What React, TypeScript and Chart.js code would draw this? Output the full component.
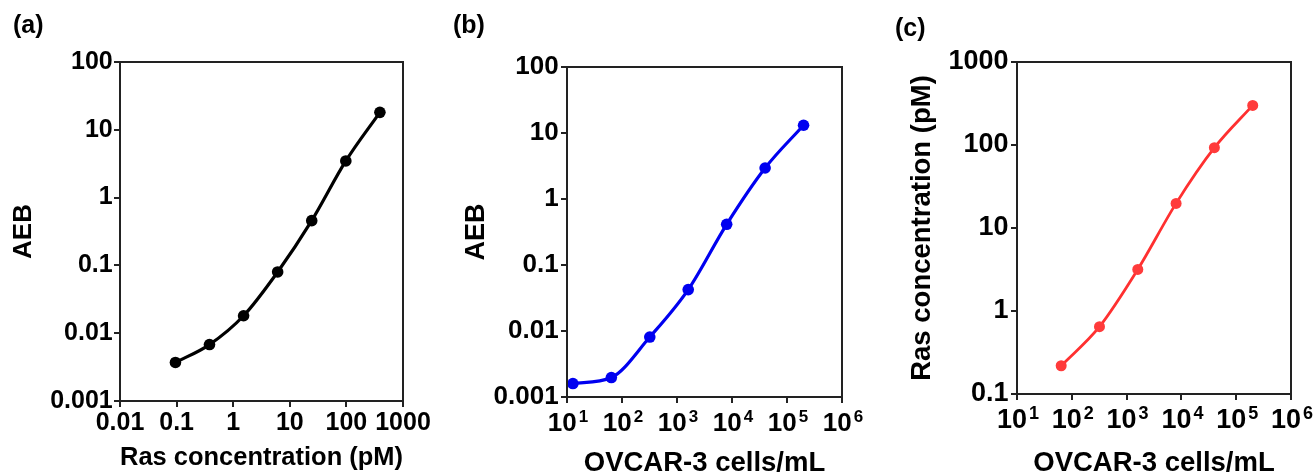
import React, { useEffect, useRef } from 'react';
import { Chart, registerables } from 'chart.js';

Chart.register(...registerables);

const FONT = "'Liberation Sans', Arial, Helvetica, sans-serif";
const AXIS_COLOR = '#222222';
const TEXT_COLOR = '#000000';

// ---------- Panel (a): AEB vs Ras concentration ----------
const A_RAS_PM = [0.0954, 0.381, 1.526, 6.1, 24.4, 97.66, 390.6];
const A_AEB = [0.0037, 0.0068, 0.0181, 0.08, 0.457, 3.47, 18.1];
const A_X_TICKS = [0.01, 0.1, 1, 10, 100, 1000];
const A_X_LABELS = ['0.01', '0.1', '1', '10', '100', '1000'];
const A_Y_TICKS = [0.001, 0.01, 0.1, 1, 10, 100];
const A_Y_LABELS = ['0.001', '0.01', '0.1', '1', '10', '100'];

// ---------- Panel (b): AEB vs OVCAR-3 cells ----------
const B_CELLS = [12.8, 64, 320, 1600, 8000, 40000, 200000];
const B_AEB = [0.0016, 0.00197, 0.0081, 0.0424, 0.414, 2.95, 13.1];
const B_Y_TICKS = [0.001, 0.01, 0.1, 1, 10, 100];
const B_Y_LABELS = ['0.001', '0.01', '0.1', '1', '10', '100'];

// ---------- Panel (c): Ras concentration vs OVCAR-3 cells ----------
const C_CELLS = [64, 320, 1600, 8000, 40000, 200000];
const C_RAS_PM = [0.219, 0.647, 3.17, 19.8, 92.7, 300];
const C_Y_TICKS = [0.1, 1, 10, 100, 1000];
const C_Y_LABELS = ['0.1', '1', '10', '100', '1000'];

// shared cell-count axis (10^n labels)
const CELL_TICKS = [1e1, 1e2, 1e3, 1e4, 1e5, 1e6];
const CELL_TICK_BASE = '10';
const CELL_TICK_EXP = ['1', '2', '3', '4', '5', '6'];

type Spec = {
  left: number;
  width: number;
  plot: { l: number; r: number; t: number; b: number };
  label: string;
  labelX: number;
  labelY: number;
  xs: number[];
  ys: number[];
  lineColor: string;
  pointColor: string;
  lineWidth: number;
  radius: number;
  xMin: number;
  xMax: number;
  yMin: number;
  yMax: number;
  xTicks: number[];
  xLabels: string[] | null;
  xExp: string[] | null;
  yTicks: number[];
  yLabels: string[];
  tickFont: number;
  xTitleFont: number;
  yTitleFont: number;
  xTitle: string;
  yTitle: string;
  xTitlePad: number;
  yTitlePad: number;
  xTickPad: number;
  yTickPad: number;
  supOffset: number;
};

const H = 475;

const SPECS: Spec[] = [
  {
    left: 0, width: 440,
    plot: { l: 120, r: 403, t: 62, b: 401 },
    label: '(a)', labelX: 13, labelY: 33,
    xs: A_RAS_PM, ys: A_AEB,
    lineColor: '#000000', pointColor: '#000000', lineWidth: 3.2, radius: 5.8,
    xMin: 0.01, xMax: 1000, yMin: 0.001, yMax: 100,
    xTicks: A_X_TICKS, xLabels: A_X_LABELS, xExp: null,
    yTicks: A_Y_TICKS, yLabels: A_Y_LABELS,
    tickFont: 25, xTitleFont: 26.5, yTitleFont: 26,
    xTitle: 'Ras concentration (pM)', yTitle: 'AEB',
    xTitlePad: 1.2, yTitlePad: 8.5, xTickPad: 1.5, yTickPad: 1.3, supOffset: 0,
  },
  {
    left: 440, width: 440,
    plot: { l: 127, r: 402, t: 67, b: 397 },
    label: '(b)', labelX: 13, labelY: 33,
    xs: B_CELLS, ys: B_AEB,
    lineColor: '#0000f0', pointColor: '#0000f0', lineWidth: 3.2, radius: 5.8,
    xMin: 10, xMax: 1e6, yMin: 0.001, yMax: 100,
    xTicks: CELL_TICKS, xLabels: null, xExp: CELL_TICK_EXP,
    yTicks: B_Y_TICKS, yLabels: B_Y_LABELS,
    tickFont: 26, xTitleFont: 27.5, yTitleFont: 27,
    xTitle: 'OVCAR-3 cells/mL', yTitle: 'AEB',
    xTitlePad: -4.7, yTitlePad: 20.5, xTickPad: 2, yTickPad: 2.4, supOffset: 25,
  },
  {
    left: 880, width: 434,
    plot: { l: 137, r: 411, t: 62, b: 394 },
    label: '(c)', labelX: 15, labelY: 36,
    xs: C_CELLS, ys: C_RAS_PM,
    lineColor: '#ff3030', pointColor: '#ff3b3b', lineWidth: 2.8, radius: 5.5,
    xMin: 10, xMax: 1e6, yMin: 0.1, yMax: 1000,
    xTicks: CELL_TICKS, xLabels: null, xExp: CELL_TICK_EXP,
    yTicks: C_Y_TICKS, yLabels: C_Y_LABELS,
    tickFont: 27, xTitleFont: 27.5, yTitleFont: 27.5,
    xTitle: 'OVCAR-3 cells/mL', yTitle: 'Ras concentration (pM)',
    xTitlePad: -4.7, yTitlePad: 26, xTickPad: 2, yTickPad: 2.4, supOffset: 24.5,
  },
];

function makePlugin(spec: Spec) {
  return {
    id: 'frameAndLabels',
    afterDraw(chart: any) {
      const { ctx, chartArea } = chart;
      const { left, right, top, bottom } = chartArea;
      ctx.save();
      ctx.strokeStyle = AXIS_COLOR;
      ctx.lineWidth = 2;
      ctx.strokeRect(left, top, right - left, bottom - top);

      ctx.fillStyle = TEXT_COLOR;
      ctx.textAlign = 'left';
      ctx.textBaseline = 'alphabetic';
      ctx.font = `bold 25px ${FONT}`;
      ctx.fillText(spec.label, spec.labelX, spec.labelY);

      if (spec.xExp) {
        const xs = chart.scales.x;
        const size = spec.tickFont;
        const supSize = Math.round(size * 0.65);
        const baseFont = `bold ${size}px ${FONT}`;
        const supFont = `bold ${supSize}px ${FONT}`;
        const yb = bottom + spec.supOffset + size * 0.358;
        spec.xTicks.forEach((v, i) => {
          const px = xs.getPixelForValue(v);
          ctx.font = baseFont;
          const w1 = ctx.measureText(CELL_TICK_BASE).width;
          ctx.font = supFont;
          const w2 = ctx.measureText(spec.xExp![i]).width;
          const gap = 2;
          const x0 = px - (w1 + gap + w2) / 2 + 1;
          ctx.font = baseFont;
          ctx.fillText(CELL_TICK_BASE, x0, yb);
          ctx.font = supFont;
          ctx.fillText(spec.xExp![i], x0 + w1 + gap, yb - size * 0.34);
        });
      }
      ctx.restore();
    },
  };
}

function makeConfig(spec: Spec): any {
  const tickFont = { family: FONT, size: spec.tickFont, weight: 'bold' };
  const grid = {
    display: true,
    drawOnChartArea: false,
    drawTicks: true,
    tickLength: 6,
    lineWidth: 2,
    color: AXIS_COLOR,
  };
  return {
    type: 'scatter',
    data: {
      datasets: [
        {
          data: spec.xs.map((x, i) => ({ x, y: spec.ys[i] })),
          showLine: true,
          borderColor: spec.lineColor,
          borderWidth: spec.lineWidth,
          backgroundColor: spec.pointColor,
          pointBackgroundColor: spec.pointColor,
          pointBorderWidth: 0,
          pointRadius: spec.radius,
          cubicInterpolationMode: 'monotone',
          fill: false,
          clip: false,
        },
      ],
    },
    options: {
      responsive: false,
      maintainAspectRatio: false,
      animation: false,
      devicePixelRatio: 1,
      layout: {
        padding: { left: 0, top: spec.plot.t, right: spec.width - spec.plot.r, bottom: 0 },
      },
      plugins: {
        legend: { display: false },
        tooltip: { enabled: false },
      },
      scales: {
        x: {
          type: 'logarithmic',
          position: 'bottom',
          min: spec.xMin,
          max: spec.xMax,
          afterBuildTicks: (s: any) => {
            s.ticks = spec.xTicks.map((v) => ({ value: v }));
          },
          afterFit: (s: any) => {
            s.height = H - spec.plot.b;
            s.paddingLeft = 0;
            s.paddingRight = 0;
          },
          ticks: {
            display: !!spec.xLabels,
            autoSkip: false,
            maxRotation: 0,
            minRotation: 0,
            padding: spec.xTickPad,
            color: TEXT_COLOR,
            font: tickFont,
            callback: (_v: any, i: number) => (spec.xLabels ? spec.xLabels[i] : ''),
          },
          grid,
          border: { display: false },
          title: {
            display: true,
            text: spec.xTitle,
            color: TEXT_COLOR,
            font: { family: FONT, size: spec.xTitleFont, weight: 'bold' },
            padding: { top: 0, bottom: spec.xTitlePad },
          },
        },
        y: {
          type: 'logarithmic',
          position: 'left',
          min: spec.yMin,
          max: spec.yMax,
          afterBuildTicks: (s: any) => {
            s.ticks = spec.yTicks.map((v) => ({ value: v }));
          },
          afterFit: (s: any) => {
            s.width = spec.plot.l;
            s.paddingTop = 0;
            s.paddingBottom = 0;
          },
          ticks: {
            autoSkip: false,
            padding: spec.yTickPad,
            color: TEXT_COLOR,
            font: tickFont,
            callback: (_v: any, i: number) => spec.yLabels[i],
          },
          grid,
          border: { display: false },
          title: {
            display: true,
            text: spec.yTitle,
            color: TEXT_COLOR,
            font: { family: FONT, size: spec.yTitleFont, weight: 'bold' },
            padding: { top: spec.yTitlePad, bottom: 0 },
          },
        },
      },
    },
    plugins: [makePlugin(spec)],
  };
}

function Panel({ spec }: { spec: Spec }) {
  const ref = useRef<HTMLCanvasElement | null>(null);
  useEffect(() => {
    if (!ref.current) return;
    const chart = new Chart(ref.current, makeConfig(spec));
    return () => chart.destroy();
  }, [spec]);
  return (
    <canvas
      ref={ref}
      width={spec.width}
      height={H}
      style={{ position: 'absolute', left: spec.left, top: 0, width: spec.width, height: H }}
    />
  );
}

export default function App() {
  return (
    <div
      style={{
        position: 'absolute',
        left: 0,
        top: 0,
        width: 1314,
        height: H,
        background: '#ffffff',
        overflow: 'hidden',
      }}
    >
      {SPECS.map((s) => (
        <Panel key={s.label} spec={s} />
      ))}
    </div>
  );
}
